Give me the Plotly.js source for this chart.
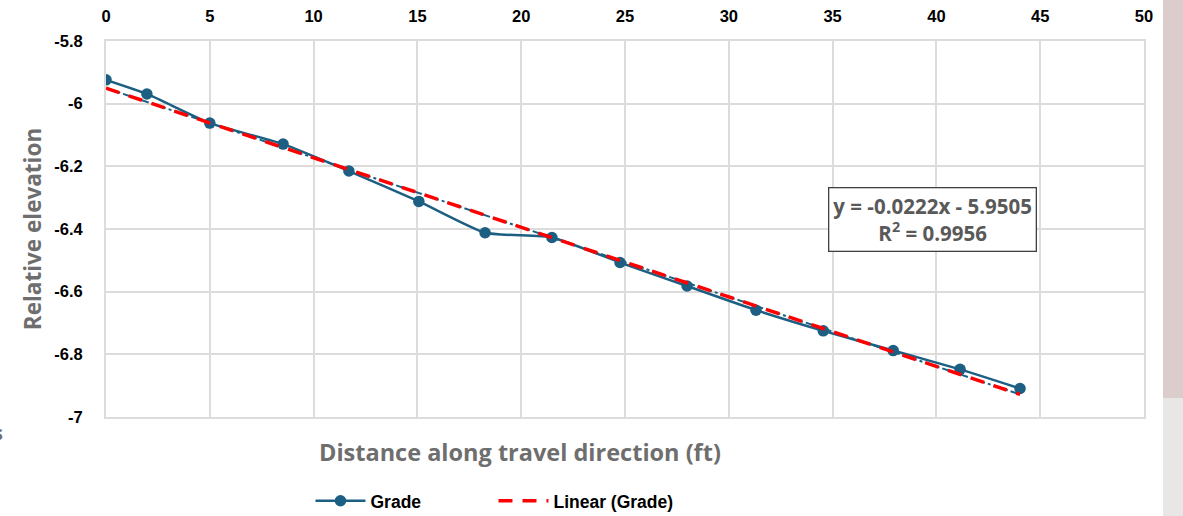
<!DOCTYPE html>
<html>
<head>
<meta charset="utf-8">
<script src="https://cdn.plot.ly/plotly-3.0.1.min.js"></script>
<style>html,body{margin:0;padding:0;background:#fff;}#chart{width:1183px;height:516px;}</style>
</head>
<body>
<div id="chart"></div>
<script>
// Data
const distanceFt = [0, 1.97, 5.0, 8.53, 11.7, 15.07, 18.26, 21.48, 24.76, 27.99, 31.31, 34.55, 37.92, 41.14, 44.03];
const gradeElev = [-5.924, -5.969, -6.062, -6.129, -6.215, -6.312, -6.412, -6.427, -6.507, -6.582, -6.659, -6.725, -6.788, -6.848, -6.909];
const trendX = [0, 44.03];
const trendY = [-5.9505, -6.928];
const xTicks = [0, 5, 10, 15, 20, 25, 30, 35, 40, 45, 50];
const yTicks = [-5.8, -6, -6.2, -6.4, -6.6, -6.8, -7];
const yTickText = ['-5.8', '-6', '-6.2', '-6.4', '-6.6', '-6.8', '-7'];
const eqText = 'y = -0.0222x - 5.9505<br>R<sup>2</sup> = 0.9956';

const blue = '#1c5f82';
const traces = [
  {x: trendX, y: trendY, mode: 'lines', line: {color: blue, width: 2, dash: 'dashdot'}, showlegend: false, hoverinfo: 'skip'},
  {x: distanceFt, y: gradeElev, mode: 'lines+markers', name: 'Grade',
   line: {color: blue, width: 2.5, shape: 'spline', smoothing: 0.5},
   marker: {color: blue, size: 11.5}},
  {x: trendX, y: trendY, mode: 'lines', name: 'Linear (Grade)', line: {color: '#ff0000', width: 3.5, dash: '14px,10px'}}
];

const tickFont = {family: 'Liberation Sans, Arial, sans-serif', size: 16.5, color: '#000', weight: 'bold'};
const titleFont = {family: 'Open Sans, sans-serif', size: 23.5, color: '#6e6e6e', weight: 'bold'};
const gridCol = '#dcdcdc';
const layout = {
  width: 1183, height: 516,
  margin: {l: 106, r: 39, t: 41, b: 99, autoexpand: false},
  paper_bgcolor: '#fff', plot_bgcolor: '#fff',
  font: {family: 'Liberation Sans, Arial, sans-serif'},
  xaxis: {
    side: 'top', range: [0, 50], tickvals: xTicks, ticktext: xTicks.map(String),
    tickfont: tickFont, showgrid: true, gridcolor: gridCol, gridwidth: 2,
    showline: true, mirror: true, linecolor: gridCol, linewidth: 2,
    zeroline: false, ticks: '', ticklabelstandoff: 10
  },
  yaxis: {
    range: [-7, -5.8], tickvals: yTicks, ticktext: yTickText,
    tickfont: tickFont, showgrid: true, gridcolor: gridCol, gridwidth: 2,
    showline: true, mirror: true, linecolor: gridCol, linewidth: 2,
    zeroline: false, ticks: '', ticklabelstandoff: 18,
    title: {text: 'Relative elevation', font: Object.assign({}, titleFont, {size: 22.5}), standoff: 6}
  },
  legend: {
    orientation: 'h', x: 0.197, xanchor: 'left', y: -0.223, yanchor: 'middle',
    font: {family: 'Liberation Sans, Arial, sans-serif', size: 17.5, color: '#000', weight: 'bold'},
    itemwidth: 50, traceorder: 'normal', entrywidth: 118
  },
  annotations: [
    {xref: 'paper', yref: 'paper', x: 0.399, y: -0.093, xanchor: 'center', yanchor: 'middle', showarrow: false,
     text: 'Distance along travel direction (ft)', font: titleFont},
    {xref: 'x', yref: 'y', x: 39.79, y: -6.371, xanchor: 'center', yanchor: 'middle', showarrow: false,
     text: eqText, align: 'center', bordercolor: '#404040', borderwidth: 1.3, borderpad: 4, bgcolor: '#fff',
     font: {family: 'Open Sans, sans-serif', size: 20.5, color: '#595959', weight: 'bold'}},
    {xref: 'paper', yref: 'paper', x: -0.0973, y: -0.04, xanchor: 'right', yanchor: 'middle', showarrow: false,
     text: 's', font: {family: 'Open Sans, sans-serif', size: 20, color: '#6e6e6e', weight: 'bold'}}
  ],
  shapes: [
    {type: 'rect', xref: 'paper', yref: 'paper', x0: 1.0183, x1: 1.04, y0: -0.27, y1: 0.05, fillcolor: '#e9e6e6', line: {width: 0}, layer: 'below'},
    {type: 'rect', xref: 'paper', yref: 'paper', x0: 1.0183, x1: 1.04, y0: 0.05, y1: 1.11, fillcolor: '#dccdcd', line: {width: 0}, layer: 'below'}
  ]
};
Plotly.newPlot('chart', traces, layout, {displayModeBar: false, staticPlot: true});
</script>
</body>
</html>
